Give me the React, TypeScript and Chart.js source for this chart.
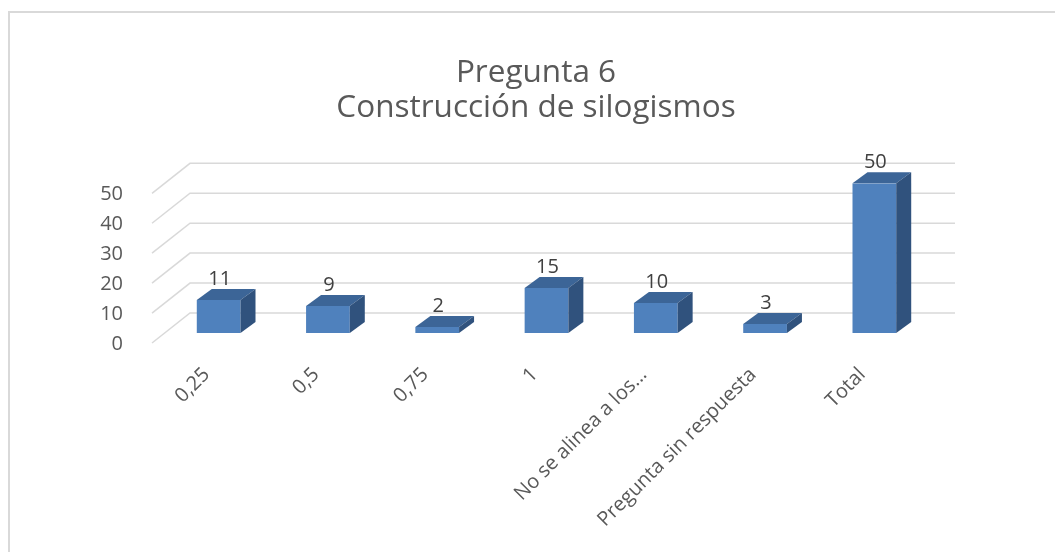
import React, { useEffect, useRef } from 'react';
import { Chart, registerables } from 'chart.js';

Chart.register(...registerables);

const categories = ['0,25', '0,5', '0,75', '1', 'No se alinea a los...', 'Pregunta sin respuesta', 'Total'];
const values = [11, 9, 2, 15, 10, 3, 50];
const titleLines = ['Pregunta 6', 'Construcción de silogismos'];
const yMin = 0;
const yMax = 50;
const yStep = 10;

const FRONT = '#4F81BD';
const TOP = '#3C6597';
const SIDE = '#30527D';
const GRID = '#d9d9d9';
const DX = 15;
const DY = 11;
const FONT = '"Open Sans", "DejaVu Sans", sans-serif';

const framePlugin = {
  id: 'frame',
  beforeDraw(chart: any) {
    const ctx = chart.ctx;
    ctx.save();
    ctx.fillStyle = '#ffffff';
    ctx.fillRect(0, 0, chart.width, chart.height);
    ctx.strokeStyle = GRID;
    ctx.lineWidth = 2;
    ctx.beginPath();
    ctx.moveTo(9, chart.height);
    ctx.lineTo(9, 12);
    ctx.lineTo(chart.width, 12);
    ctx.stroke();
    ctx.restore();
  },
};

const grid3dPlugin = {
  id: 'grid3d',
  beforeDatasetsDraw(chart: any) {
    const { ctx, chartArea } = chart;
    const y = chart.scales.y;
    ctx.save();
    ctx.strokeStyle = GRID;
    ctx.lineWidth = 1.5;
    y.ticks.forEach((t: any) => {
      const p = y.getPixelForValue(t.value);
      ctx.beginPath();
      ctx.moveTo(chartArea.left - 12, p + 10);
      ctx.lineTo(chartArea.left + 26, p - 20);
      ctx.lineTo(chartArea.right + 26, p - 20);
      ctx.stroke();
    });
    ctx.restore();
  },
};

const bars3dPlugin = {
  id: 'bars3d',
  afterDatasetsDraw(chart: any) {
    const { ctx } = chart;
    const meta = chart.getDatasetMeta(0);
    ctx.save();
    meta.data.forEach((bar: any, i: number) => {
      const { x, y, base, width } = bar.getProps(['x', 'y', 'base', 'width'], true);
      const l = x - width / 2;
      const r = x + width / 2;
      ctx.fillStyle = TOP;
      ctx.beginPath();
      ctx.moveTo(l, y);
      ctx.lineTo(l + DX, y - DY);
      ctx.lineTo(r + DX, y - DY);
      ctx.lineTo(r, y);
      ctx.closePath();
      ctx.fill();
      ctx.fillStyle = SIDE;
      ctx.beginPath();
      ctx.moveTo(r, y);
      ctx.lineTo(r + DX, y - DY);
      ctx.lineTo(r + DX, base - DY);
      ctx.lineTo(r, base);
      ctx.closePath();
      ctx.fill();
      ctx.fillStyle = '#404040';
      ctx.font = '20px ' + FONT;
      ctx.textAlign = 'center';
      ctx.textBaseline = 'middle';
      ctx.fillText(String(values[i]), x + 1, y - 21);
    });
    ctx.restore();
  },
};

export default function App() {
  const ref = useRef<HTMLCanvasElement | null>(null);
  useEffect(() => {
    if (!ref.current) return;
    Chart.defaults.font.family = FONT;
    const chart = new Chart(ref.current, {
      type: 'bar',
      data: {
        labels: categories,
        datasets: [
          {
            data: values,
            backgroundColor: FRONT,
            borderWidth: 0,
            barPercentage: 0.4,
            categoryPercentage: 1,
          },
        ],
      },
      options: {
        animation: false,
        responsive: false,
        devicePixelRatio: 1,
        layout: { padding: { left: 17, right: 0, top: 0, bottom: 0 } },
        plugins: {
          legend: { display: false },
          tooltip: { enabled: false },
          title: {
            display: true,
            text: titleLines,
            color: '#595959',
            font: { size: 31.5, weight: 'normal', lineHeight: 1.1 },
            padding: { top: 56, bottom: 58 },
          },
        },
        scales: {
          x: {
            grid: { display: false },
            border: { display: false },
            ticks: {
              maxRotation: 45,
              minRotation: 45,
              autoSkip: false,
              padding: 22,
              labelOffset: -12,
              color: '#595959',
              font: { size: 20 },
            },
            afterFit: (s: any) => {
              s.height = 219;
            },
          },
          y: {
            min: yMin,
            max: yMax,
            grid: { display: false },
            border: { display: false },
            ticks: {
              stepSize: yStep,
              padding: 33,
              labelOffset: 11,
              color: '#595959',
              font: { size: 20 },
            },
            afterFit: (s: any) => {
              s.width = 147;
            },
          },
          yR: {
            position: 'right',
            grid: { display: false },
            border: { display: false },
            ticks: { display: false },
            afterFit: (s: any) => {
              s.width = 126;
            },
          },
        },
      },
      plugins: [framePlugin, grid3dPlugin, bars3dPlugin],
    } as any);
    return () => chart.destroy();
  }, []);
  return (
    <div style={{ position: 'fixed', left: 0, top: 0, width: 1055, height: 552, background: '#fff' }}>
      <canvas ref={ref} width={1055} height={552} style={{ display: 'block' }} />
    </div>
  );
}
